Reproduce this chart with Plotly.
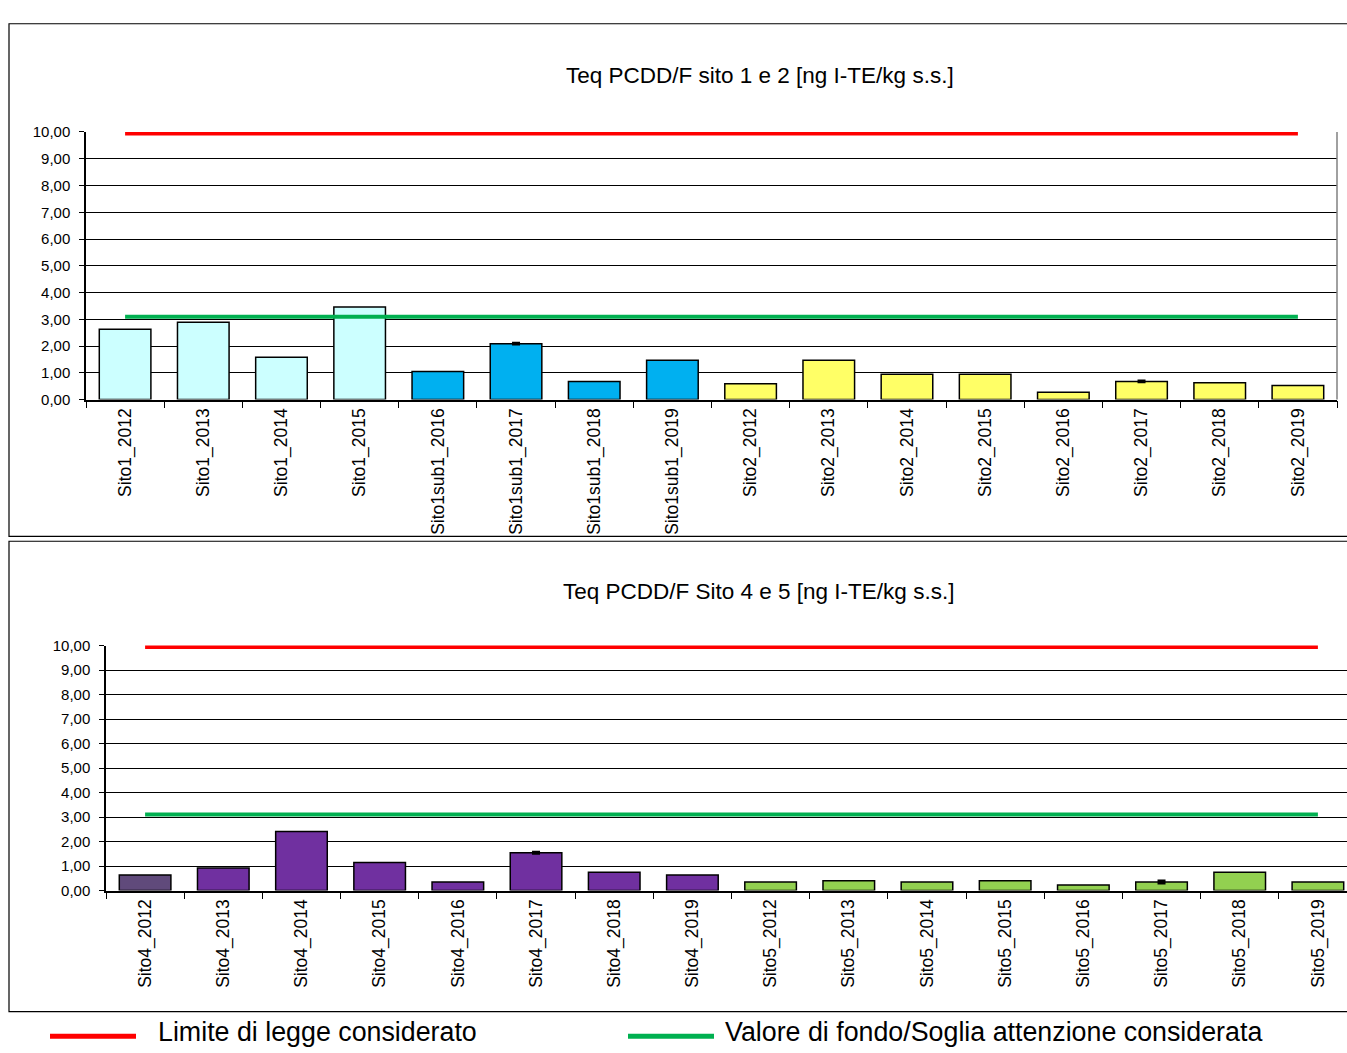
import plotly.graph_objects as go

# ---------------- data ----------------
top_categories = ["Sito1_2012", "Sito1_2013", "Sito1_2014", "Sito1_2015",
                  "Sito1sub1_2016", "Sito1sub1_2017", "Sito1sub1_2018", "Sito1sub1_2019",
                  "Sito2_2012", "Sito2_2013", "Sito2_2014", "Sito2_2015",
                  "Sito2_2016", "Sito2_2017", "Sito2_2018", "Sito2_2019"]
top_values = [2.63, 2.89, 1.58, 3.46, 1.05, 2.09, 0.68, 1.47,
              0.59, 1.47, 0.95, 0.95, 0.27, 0.68, 0.63, 0.53]
top_errors = [0, 0, 0, 0, 0, 0.07, 0, 0,
              0, 0, 0, 0, 0, 0.07, 0, 0]

bottom_categories = ["Sito4_2012", "Sito4_2013", "Sito4_2014", "Sito4_2015",
                     "Sito4_2016", "Sito4_2017", "Sito4_2018", "Sito4_2019",
                     "Sito5_2012", "Sito5_2013", "Sito5_2014", "Sito5_2015",
                     "Sito5_2016", "Sito5_2017", "Sito5_2018", "Sito5_2019"]
bottom_values = [0.63, 0.92, 2.41, 1.14, 0.35, 1.54, 0.75, 0.63,
                 0.35, 0.40, 0.35, 0.40, 0.23, 0.35, 0.75, 0.35]
bottom_errors = [0, 0, 0, 0, 0, 0.08, 0, 0,
                 0, 0, 0, 0, 0, 0.1, 0, 0]

limit_value = 10.0        # Limite di legge considerato
threshold_value = 3.1     # Valore di fondo/Soglia attenzione considerata

y_tick_values = [0, 1, 2, 3, 4, 5, 6, 7, 8, 9, 10]

top_title = "Teq PCDD/F sito 1 e 2 [ng I-TE/kg s.s.]"
bottom_title = "Teq PCDD/F Sito 4 e 5 [ng I-TE/kg s.s.]"
legend_red = "Limite di legge considerato"
legend_green = "Valore di fondo/Soglia attenzione considerata"

# ---------------- styles ----------------
group_colors = {"Sito1sub1": "#00B0F0", "Sito1": "#CCFFFF", "Sito2": "#FFFF66",
                "Sito4": "#7030A0", "Sito5": "#92D050"}
special_colors = {"Sito4_2012": "#604A7B"}


def color_for(cat):
    if cat in special_colors:
        return special_colors[cat]
    return group_colors[cat.split("_")[0]]


W, H = 1347, 1053
FONT = "Liberation Sans, Arial, sans-serif"

fig = go.Figure()


def add_panel(cats, vals, errs, xa, ya):
    fig.add_trace(go.Bar(
        x=cats, y=vals, xaxis=xa, yaxis=ya,
        marker=dict(color=[color_for(c) for c in cats],
                    line=dict(color="#000000", width=1.5)),
        error_y=dict(type="data", array=errs, visible=True,
                     color="#000000", thickness=8, width=0),
        showlegend=False, hoverinfo="x+y"))
    fig.add_trace(go.Scatter(
        x=cats, y=[limit_value] * len(cats), xaxis=xa, yaxis=ya,
        mode="lines", line=dict(color="#FF0000", width=7),
        name=legend_red, showlegend=False))
    fig.add_trace(go.Scatter(
        x=cats, y=[threshold_value] * len(cats), xaxis=xa, yaxis=ya,
        mode="lines", line=dict(color="#00B050", width=4),
        name=legend_green, showlegend=False))


add_panel(top_categories, top_values, top_errors, "x", "y")
add_panel(bottom_categories, bottom_values, bottom_errors, "x2", "y2")


def py(pix):
    return 1 - pix / H


def px(pix):
    return pix / W


axis_common_y = dict(
    range=[0, 10], tickvals=y_tick_values, tickformat=".2f",
    showgrid=True, gridcolor="#000000", gridwidth=1,
    showline=True, linecolor="#000000", linewidth=1.5,
    ticks="outside", ticklen=5, tickcolor="#000000",
    tickfont=dict(family=FONT, size=15, color="#000000"),
    ticklabelstandoff=6, zeroline=False, fixedrange=True)

axis_common_x = dict(
    type="category", tickangle=-90, tickson="boundaries",
    ticks="outside", ticklen=7, tickcolor="#000000",
    showline=True, linecolor="#000000", linewidth=1.5,
    showgrid=False, tickfont=dict(family=FONT, size=17.5, color="#000000"),
    fixedrange=True)

fig.update_layout(
    width=W, height=H,
    margin=dict(l=0, r=0, t=0, b=0),
    paper_bgcolor="#FFFFFF", plot_bgcolor="#FFFFFF",
    separators=",.",
    bargap=0.34,
    font=dict(family=FONT, color="#000000"),
    xaxis=dict(axis_common_x, domain=[px(86), px(1337)], range=[-0.5, 15.5], anchor="y"),
    yaxis=dict(axis_common_y, domain=[py(397), py(125)], anchor="x"),
    xaxis2=dict(axis_common_x, domain=[px(106), 1.0],
                range=[-0.5, 15.5 - (1357 - 1347) / 78.2], anchor="y2"),
    yaxis2=dict(axis_common_y, domain=[py(896), py(647)], anchor="x2"),
)

shapes = [
    # panel frames
    dict(type="rect", xref="paper", yref="paper", x0=px(9), x1=px(1350),
         y0=py(536), y1=py(15), line=dict(color="#000000", width=1.2)),
    dict(type="rect", xref="paper", yref="paper", x0=px(9), x1=px(1350),
         y0=py(1019), y1=py(541), line=dict(color="#000000", width=1.2)),
    # grey right border of top plot area
    dict(type="line", xref="x domain", yref="y domain", x0=1, x1=1, y0=0, y1=1,
         line=dict(color="#808080", width=1.5)),
    # legend samples
    dict(type="line", xref="paper", yref="paper", x0=px(50), x1=px(136),
         y0=py(1044), y1=py(1044), line=dict(color="#FF0000", width=5)),
    dict(type="line", xref="paper", yref="paper", x0=px(628), x1=px(714),
         y0=py(1044), y1=py(1044), line=dict(color="#00B050", width=5)),
]

annotations = [
    dict(text=top_title, xref="paper", yref="paper", x=px(760), y=py(68),
         showarrow=False, xanchor="center", yanchor="middle",
         font=dict(family=FONT, size=22.5, color="#000000")),
    dict(text=bottom_title, xref="paper", yref="paper", x=px(758), y=py(592),
         showarrow=False, xanchor="center", yanchor="middle",
         font=dict(family=FONT, size=22.5, color="#000000")),
    dict(text=legend_red, xref="paper", yref="paper", x=px(156), y=py(1040),
         showarrow=False, xanchor="left", yanchor="middle",
         font=dict(family=FONT, size=26.8, color="#000000")),
    dict(text=legend_green, xref="paper", yref="paper", x=px(723), y=py(1040),
         showarrow=False, xanchor="left", yanchor="middle",
         font=dict(family=FONT, size=26.8, color="#000000")),
]

fig.update_layout(shapes=shapes, annotations=annotations)

fig.write_html("out.html", config={"displayModeBar": False},
               post_script="document.body.style.margin='0';"
                           "document.body.style.overflow='hidden';")
